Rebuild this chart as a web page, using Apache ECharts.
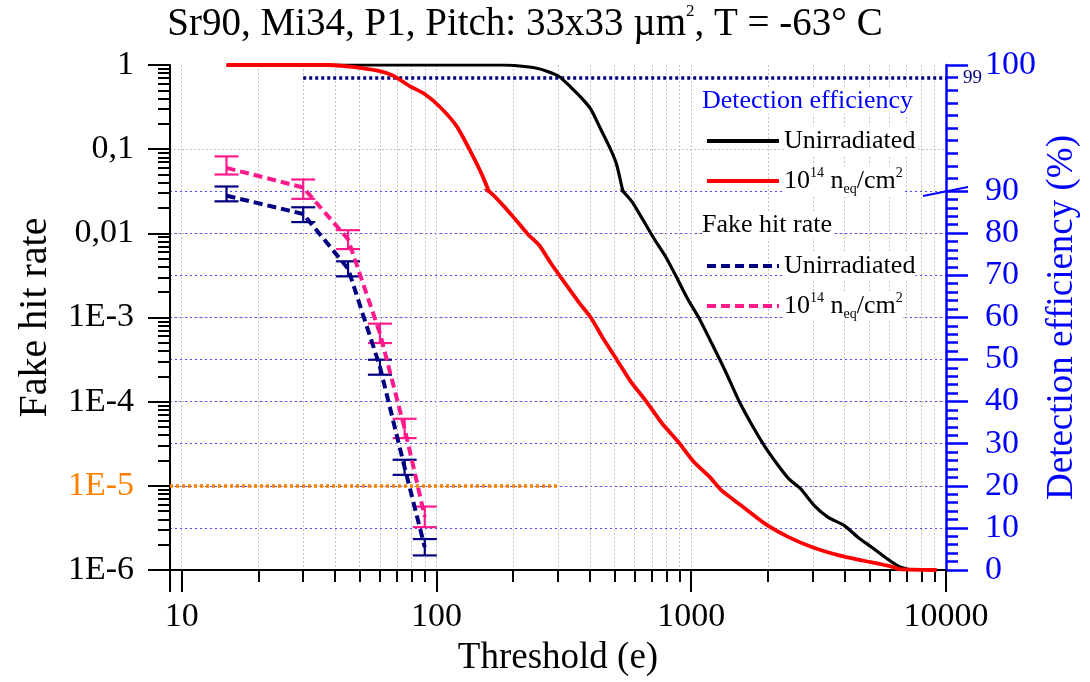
<!DOCTYPE html>
<html>
<head>
<meta charset="utf-8">
<script src="https://cdn.jsdelivr.net/npm/echarts@6/dist/echarts.min.js"></script>
<style>
  html, body { margin: 0; padding: 0; background: #ffffff; }
  #chart { width: 1090px; height: 682px; }
</style>
</head>
<body>
<div id="chart"></div>
<script>
// ---- Fake hit rate (left log axis) ----
const fhrThresholds = [15, 30, 45, 60, 75, 90];
const fhrUnirr     = [0.028, 0.017, 0.0038, 2.6e-4, 1.66e-5, 1.86e-6];
const fhrUnirrLow  = [0.024, 0.0136, 0.00308, 2.09e-4, 1.35e-5, 1.49e-6];
const fhrUnirrHigh = [0.036, 0.0204, 0.00465, 3.15e-4, 2.04e-5, 2.33e-6];
const fhrIrr       = [0.060, 0.035, 0.0085, 6.5e-4, 4.8e-5, 4.3e-6];
const fhrIrrLow    = [0.050, 0.0257, 0.0065, 4.97e-4, 3.69e-5, 3.23e-6];
const fhrIrrHigh   = [0.082, 0.0436, 0.0109, 8.45e-4, 6.26e-5, 5.67e-6];

// ---- Detection efficiency in % (right axis) ----
const effUnirrThr = [15, 100, 150, 184, 212, 245, 273, 304, 338, 370, 404, 442, 483, 510, 538,
  588, 643, 716, 797, 871, 970, 1080, 1202, 1362, 1543, 1718, 1946, 2166, 2412, 2685, 3042,
  3449, 3981, 4510, 5110, 5893, 6560, 7300];
const effUnirr = [100, 100, 100, 100, 99.92, 99.76, 99.49, 99.07, 98.21, 97.41, 96.48, 94.88,
  93.28, 92.08, 90.08, 87.3, 83.4, 78.6, 74.2, 69.8, 64.3, 59.5, 53.9, 47.2, 40.0, 34.8, 29.3,
  25.3, 21.7, 19.3, 15.3, 12.5, 10.6, 7.8, 5.4, 2.6, 0.8, 0];
const effIrrThr = [15, 38, 45.7, 58.7, 67.7, 78.2, 90.2, 104, 120, 136, 151, 168, 198, 228, 254,
  283, 326, 363, 404, 450, 501, 578, 667, 769, 887, 1023, 1181, 1315, 1572, 1946, 2412, 2990,
  3840, 4757, 6109, 6560, 9200];
const effIrr = [100, 100, 99.87, 99.55, 99.15, 98.35, 97.68, 96.61, 95.15, 93.15, 91.28, 88.9,
  84.2, 79.8, 77.0, 72.6, 67.4, 63.5, 59.9, 55.1, 50.7, 44.8, 40.0, 34.8, 30.5, 25.7, 22.1,
  18.9, 15.3, 11.0, 7.8, 5.4, 3.4, 2.2, 0.8, 0.2, 0];

// ---- reference levels ----
const effReference = 99;        // efficiency level line (%)
const effReferenceFrom = 30;    // threshold where that line starts
const fhrReference = 1e-5;      // fake-hit-rate level line
const fhrReferenceTo = 300;     // threshold where that line ends

// ---- tick labels ----
const xTickLabels = { 1: '10', 2: '100', 3: '1000', 4: '10000' };
const yTickLabels = { 0: '1', '-1': '0,1', '-2': '0,01', '-3': '1E-3', '-4': '1E-4', '-5': '1E-5', '-6': '1E-6' };

// ---- legend texts ----
const legendTitleEff = 'Detection efficiency';
const legendTitleFhr = 'Fake hit rate';
const legendNames = {
  effU: 'Unirradiated',
  effI: '10{sup|14} n{sub|eq}/cm{sup|2}',
  fhrU: 'Unirradiated',
  fhrI: '10{sup|14} n{sub|eq}/cm{sup|2}'
};

const FONT = 'Liberation Serif';
const BLUE = '#0000ff';
const NAVY = '#000080';
const PINK = '#ff1a8c';
const ORANGE = '#ff8000';
const GRID_GREY = '#c4c4c4';

const X_MIN = 9, X_MAX = 10000;
const GRID_L = 170, GRID_R = 144, GRID_T = 65, GRID_B = 112;
const BREAK_TOP = 191;   // pixel row where the 90 % break sits

const rich = {
  sup: { fontFamily: FONT, fontSize: 14, verticalAlign: 'top', lineHeight: 30 },
  sub: { fontFamily: FONT, fontSize: 14, verticalAlign: 'bottom', lineHeight: 30 }
};

const chart = echarts.init(document.getElementById('chart'), null, { renderer: 'canvas' });

function pairs(xs, ys) { return xs.map((x, i) => [x, ys[i]]); }

function errorBars(name, color, low, high) {
  return {
    type: 'custom',
    name: name,
    xAxisIndex: 0, yAxisIndex: 0,
    z: 4,
    silent: true,
    encode: { x: 0, y: [1, 2] },
    data: fhrThresholds.map((t, i) => [t, low[i], high[i]]),
    renderItem(params, api) {
      const lo = api.coord([api.value(0), api.value(1)]);
      const hi = api.coord([api.value(0), api.value(2)]);
      const w = 12;
      const style = { stroke: color, lineWidth: 2.2, fill: null };
      return {
        type: 'group',
        children: [
          { type: 'line', shape: { x1: lo[0], y1: lo[1], x2: hi[0], y2: hi[1] }, style },
          { type: 'line', shape: { x1: lo[0] - w, y1: lo[1], x2: lo[0] + w, y2: lo[1] }, style },
          { type: 'line', shape: { x1: hi[0] - w, y1: hi[1], x2: hi[0] + w, y2: hi[1] }, style }
        ]
      };
    }
  };
}

function effSeries(name, color, width, xs, ys, axisIdx, extra) {
  return Object.assign({
    type: 'line',
    name: name,
    xAxisIndex: axisIdx, yAxisIndex: axisIdx + 1,
    data: pairs(xs, ys),
    symbol: 'none',
    smooth: 0.2,
    clip: true,
    z: name === 'effI' ? 6 : 5,
    lineStyle: { color: color, width: width, join: 'round' },
    itemStyle: { color: color },
    silent: true
  }, extra || {});
}

const hiddenX = (gi) => ({
  gridIndex: gi, type: 'log', min: X_MIN, max: X_MAX, show: false
});

const legendBase = {
  orient: 'vertical', left: 700,
  itemWidth: 72, itemHeight: 14, itemGap: 10,
  selectedMode: false,
  formatter: (n) => legendNames[n],
  itemStyle: { opacity: 0 },
  lineStyle: { width: 4 },
  textStyle: { fontFamily: FONT, fontSize: 26, color: '#000', backgroundColor: '#fff', lineHeight: 30, rich: rich }
};

const option = {
  animation: false,
  backgroundColor: '#ffffff',
  textStyle: { fontFamily: FONT },
  grid: [
    { left: GRID_L, right: GRID_R, top: GRID_T, bottom: GRID_B },
    { left: GRID_L, right: GRID_R, top: BREAK_TOP, bottom: GRID_B },
    { left: GRID_L, right: GRID_R, top: GRID_T, height: BREAK_TOP - GRID_T }
  ],
  xAxis: [
    {
      gridIndex: 0, type: 'log', min: X_MIN, max: X_MAX, logBase: 10,
      name: 'Threshold (e)', nameLocation: 'middle', nameGap: 70,
      nameTextStyle: { fontFamily: FONT, fontSize: 37, color: '#000' },
      axisLine: { show: true, lineStyle: { color: '#000', width: 2 } },
      axisTick: { show: true, length: 22, lineStyle: { color: '#000', width: 2 } },
      minorTick: { show: true, splitNumber: 9, length: 12, lineStyle: { color: '#000', width: 2 } },
      axisLabel: {
        fontFamily: FONT, fontSize: 34, color: '#000', margin: 30,
        formatter: (v) => {
          const e = Math.log10(v);
          return Math.abs(e - Math.round(e)) < 1e-6 ? (xTickLabels[Math.round(e)] || '') : '';
        }
      },
      splitLine: { show: true, lineStyle: { color: GRID_GREY, width: 1, type: [2, 2] } },
      minorSplitLine: { show: true, lineStyle: { color: GRID_GREY, width: 1, type: [2, 2] } }
    },
    hiddenX(1),
    hiddenX(2)
  ],
  yAxis: [
    {
      gridIndex: 0, type: 'log', min: 1e-6, max: 1, logBase: 10, position: 'left',
      name: 'Fake hit rate', nameLocation: 'middle', nameGap: 115,
      nameTextStyle: { fontFamily: FONT, fontSize: 40, color: '#000' },
      axisLine: { show: true, lineStyle: { color: '#000', width: 2 } },
      axisTick: { show: true, length: 22, lineStyle: { color: '#000', width: 2 } },
      minorTick: { show: true, splitNumber: 9, length: 12, lineStyle: { color: '#000', width: 2 } },
      axisLabel: {
        fontFamily: FONT, fontSize: 34, color: '#000', margin: 36,
        formatter: (v) => {
          const e = Math.round(Math.log10(v));
          const t = yTickLabels[e];
          if (t == null) return '';
          return e === -5 ? '{o|' + t + '}' : t;
        },
        rich: { o: { fontFamily: FONT, fontSize: 34, color: ORANGE } }
      },
      splitLine: { show: true, showMaxLine: false, lineStyle: { color: GRID_GREY, width: 1, type: [2, 2] } }
    },
    {
      // carries only the right-hand axis title across the full plot height
      gridIndex: 0, type: 'value', min: 0, max: 1, position: 'right',
      name: 'Detection efficiency (%)', nameLocation: 'middle', nameGap: 98,
      nameTextStyle: { fontFamily: FONT, fontSize: 37, color: BLUE },
      axisLine: { show: false }, axisTick: { show: false }, axisLabel: { show: false },
      splitLine: { show: false }
    },
    {
      gridIndex: 1, type: 'value', min: 0, max: 90, interval: 10, position: 'right',
      axisLine: { show: true, lineStyle: { color: BLUE, width: 2.5 } },
      axisTick: { show: true, length: 22, lineStyle: { color: BLUE, width: 2.5 } },
      minorTick: { show: true, splitNumber: 5, length: 12, lineStyle: { color: BLUE, width: 2.5 } },
      axisLabel: { fontFamily: FONT, fontSize: 34, color: BLUE, margin: 39 },
      splitLine: { show: true, lineStyle: { color: '#4a4aff', width: 1, type: [2, 3] } }
    },
    {
      gridIndex: 2, type: 'value', min: 90, max: 100, interval: 10, position: 'right',
      axisLine: { show: true, lineStyle: { color: BLUE, width: 2.5 } },
      axisTick: { show: true, length: 22, lineStyle: { color: BLUE, width: 2.5 } },
      minorTick: { show: true, splitNumber: 10, length: 12, lineStyle: { color: BLUE, width: 2.5 } },
      axisLabel: {
        fontFamily: FONT, fontSize: 34, color: BLUE, margin: 39,
        formatter: (v) => (v === 100 ? '100' : '')
      },
      splitLine: { show: false }
    }
  ],
  legend: [
    Object.assign({ data: ['effU', 'effI'], top: 121 }, legendBase),
    Object.assign({ data: ['fhrU', 'fhrI'], top: 246 }, legendBase)
  ],
  series: [
    effSeries('effU', '#000000', 3.2, effUnirrThr, effUnirr, 1),
    effSeries('effU', '#000000', 3.2, effUnirrThr, effUnirr, 2, {
      markLine: {
        silent: true, symbol: ['none', 'none'], animation: false,
        lineStyle: { color: NAVY, width: 3.5, type: [3, 3] },
        label: { show: true, position: 'end', formatter: String(effReference), color: NAVY,
                 fontFamily: FONT, fontSize: 19, distance: 17 },
        data: [[{ coord: [effReferenceFrom, effReference] }, { coord: [X_MAX, effReference] }]]
      }
    }),
    effSeries('effI', '#ff0000', 3.8, effIrrThr, effIrr, 1),
    effSeries('effI', '#ff0000', 3.8, effIrrThr, effIrr, 2),
    {
      type: 'line', name: 'fhrU', xAxisIndex: 0, yAxisIndex: 0, z: 4,
      data: pairs(fhrThresholds, fhrUnirr), symbol: 'none', silent: true,
      lineStyle: { color: NAVY, width: 4, type: [9, 5] }, itemStyle: { color: NAVY },
      markLine: {
        silent: true, symbol: ['none', 'none'], animation: false,
        lineStyle: { color: ORANGE, width: 3.5, type: [3, 3] },
        label: { show: false },
        data: [[{ coord: [X_MIN, fhrReference] }, { coord: [fhrReferenceTo, fhrReference] }]]
      }
    },
    {
      type: 'line', name: 'fhrI', xAxisIndex: 0, yAxisIndex: 0, z: 4,
      data: pairs(fhrThresholds, fhrIrr), symbol: 'none', silent: true,
      lineStyle: { color: PINK, width: 4, type: [9, 5] }, itemStyle: { color: PINK }
    },
    errorBars('fhrU_err', NAVY, fhrUnirrLow, fhrUnirrHigh),
    errorBars('fhrI_err', PINK, fhrIrrLow, fhrIrrHigh)
  ]
};

chart.setOption(option);

// Title, legend group headings and the axis-break mark
const axisX = chart.convertToPixel({ xAxisIndex: 1 }, X_MAX);
const breakY = chart.convertToPixel({ yAxisIndex: 2 }, 90);
chart.setOption({
  graphic: [
    {
      type: 'text', x: 525, y: 25, z: 10,
      style: {
        text: '{a|Sr90, Mi34, P1, Pitch: 33x33 \u00b5m}{s|2}{a|, T = -63\u00b0 C}',
        align: 'center', verticalAlign: 'middle',
        rich: {
          a: { fontFamily: FONT, fontSize: 39, fill: '#000', lineHeight: 44 },
          s: { fontFamily: FONT, fontSize: 17, fill: '#000', verticalAlign: 'top', lineHeight: 44 }
        }
      }
    },
    {
      type: 'text', x: 702, y: 101, z: 10,
      style: { text: legendTitleEff, fontFamily: FONT, fontSize: 26, fill: BLUE,
               verticalAlign: 'middle', backgroundColor: '#fff' }
    },
    {
      type: 'text', x: 702, y: 225, z: 10,
      style: { text: legendTitleFhr, fontFamily: FONT, fontSize: 26, fill: '#000',
               verticalAlign: 'middle', backgroundColor: '#fff' }
    },
    {
      type: 'line', z: 10,
      shape: { x1: axisX - 23, y1: breakY + 5, x2: axisX + 22, y2: breakY - 4 },
      style: { stroke: BLUE, lineWidth: 2 }
    }
  ]
});
</script>
</body>
</html>
